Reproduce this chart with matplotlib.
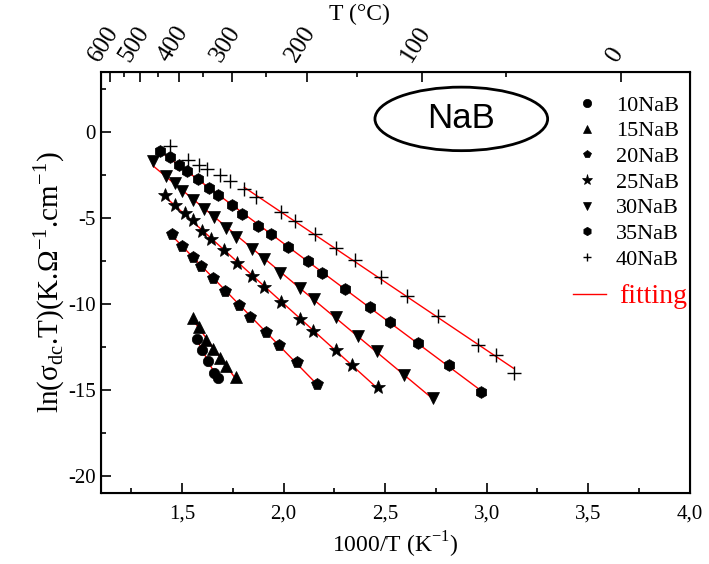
import numpy as np
import matplotlib.pyplot as plt
import matplotlib.transforms as mtransforms
from matplotlib.lines import Line2D
from matplotlib.patches import Ellipse
from matplotlib.ticker import FixedLocator, FuncFormatter, MultipleLocator

plt.rcParams["font.family"] = ["Liberation Serif", "DejaVu Serif"]
plt.rcParams["axes.unicode_minus"] = False
plt.rcParams["mathtext.fontset"] = "custom"
plt.rcParams["mathtext.rm"] = "Liberation Serif"

# --- dados: 1000/T (K^-1) e ln(sigma.T) ---
x_10 = [1.574, 1.597, 1.630, 1.656, 1.676]
y_10 = [-12.05, -12.67, -13.30, -14.03, -14.32]

x_15 = [1.554, 1.584, 1.620, 1.653, 1.686, 1.719, 1.764]
y_15 = [-10.83, -11.35, -12.09, -12.64, -13.12, -13.60, -14.26]

x_20 = [1.453, 1.502, 1.554, 1.594, 1.653, 1.712, 1.781, 1.837, 1.912, 1.978, 2.066, 2.164]
y_20 = [-5.91, -6.63, -7.29, -7.79, -8.51, -9.26, -10.08, -10.74, -11.63, -12.38, -13.39, -14.67]

x_25 = [1.415, 1.464, 1.513, 1.552, 1.600, 1.643, 1.705, 1.771, 1.847, 1.902,
        1.987, 2.079, 2.145, 2.257, 2.339, 2.467]
y_25 = [-3.64, -4.22, -4.69, -5.12, -5.74, -6.24, -6.86, -7.60, -8.37, -8.99,
        -9.88, -10.85, -11.59, -12.67, -13.57, -14.84]

x_30 = [1.357, 1.423, 1.466, 1.502, 1.554, 1.610, 1.656, 1.719, 1.768, 1.847,
        1.902, 1.984, 2.079, 2.148, 2.257, 2.368, 2.460, 2.591, 2.735]
y_30 = [-1.69, -2.54, -2.98, -3.41, -3.95, -4.49, -4.96, -5.58, -6.09, -6.78,
        -7.40, -8.18, -9.07, -9.73, -10.78, -11.86, -12.71, -14.13, -15.50]

x_35 = [1.394, 1.440, 1.485, 1.525, 1.577, 1.633, 1.679, 1.745, 1.797, 1.876,
        1.938, 2.024, 2.119, 2.191, 2.302, 2.424, 2.522, 2.663, 2.814, 2.974]
y_35 = [-1.09, -1.43, -1.88, -2.25, -2.73, -3.26, -3.68, -4.26, -4.73, -5.43,
        -5.95, -6.69, -7.50, -8.18, -9.13, -10.17, -11.05, -12.27, -13.57, -15.13]

x_40 = [1.440, 1.530, 1.584, 1.625, 1.686, 1.735, 1.807, 1.863, 1.987, 2.056,
        2.153, 2.260, 2.353, 2.478, 2.607, 2.762, 2.957, 3.047, 3.132]
y_40 = [-0.80, -1.63, -1.90, -2.15, -2.50, -2.83, -3.33, -3.76, -4.65, -5.15,
        -5.93, -6.76, -7.44, -8.45, -9.51, -10.70, -12.40, -12.99, -13.99]

labels = ["10NaB", "15NaB", "20NaB", "25NaB", "30NaB", "35NaB", "40NaB"]
xs = [x_10, x_15, x_20, x_25, x_30, x_35, x_40]
ys = [y_10, y_15, y_20, y_25, y_30, y_35, y_40]
# primeiro ponto usado no ajuste linear de cada série
fit_start = [0, 0, 0, 0, 0, 0, 6]

markers = ["o", "^", "p", "*", "v", "h", "+"]
msizes = [7.5, 8.5, 8.5, 10.5, 8.5, 8.5, 9.5]

# eixo de cima em graus Celsius
top_major_c = [600, 500, 400, 300, 200, 100, 0]
top_minor_c = [550, 450, 350, 250, 150, 50]

fig = plt.figure(figsize=(7.09, 5.64), dpi=100)
ax = fig.add_axes([0.142, 0.126, 0.831, 0.746])

for x, y, m, ms, i0 in zip(xs, ys, markers, msizes, fit_start):
    x = np.array(x)
    y = np.array(y)
    ax.plot(x, y, linestyle="none", marker=m, ms=ms, color="black",
            mew=1.0 if m == "+" else 0.5, zorder=3)
    a, b = np.polyfit(x[i0:], y[i0:], 1)
    xf = np.array([x[i0], x[-1]])
    ax.plot(xf, a * xf + b, color="red", lw=1.0, zorder=2)

ax.set_xlim(1.1, 4.0)
ax.set_ylim(-21, 3.5)
ax.xaxis.set_ticks([1.5, 2.0, 2.5, 3.0, 3.5, 4.0])
ax.xaxis.set_minor_locator(MultipleLocator(0.25))
ax.yaxis.set_major_locator(FixedLocator([0, -5, -10, -15, -20]))
ax.yaxis.set_minor_locator(MultipleLocator(2.5))
ax.xaxis.set_major_formatter(FuncFormatter(lambda v, p: f"{v:.1f}".replace(".", ",")))
ax.yaxis.set_major_formatter(FuncFormatter(lambda v, p: f"{v:.0f}"))
ax.tick_params(which="both", direction="in", labelsize=15, width=1.2)
ax.tick_params(which="major", length=7)
ax.tick_params(which="minor", length=3.5)
ax.tick_params(axis="x", pad=8)
ax.tick_params(top=False, right=False)
for s in ax.spines.values():
    s.set_linewidth(1.5)

ax.set_xlabel("1000/T (K$^{\\mathregular{-1}}$)", fontsize=17, labelpad=5)
ax.set_ylabel("ln(σ$_{\\mathregular{dc}}$.T)(K.Ω$^{\\mathregular{-1}}$.cm$^{\\mathregular{-1}}$)",
              fontsize=21, labelpad=1)

# eixo superior T (°C)
ax2 = ax.twiny()
ax2.set_xlim(ax.get_xlim())
ax2.xaxis.set_major_locator(FixedLocator([1000 / (t + 273.15) for t in top_major_c]))
ax2.xaxis.set_minor_locator(FixedLocator([1000 / (t + 273.15) for t in top_minor_c]))
ax2.set_xticklabels([str(t) for t in top_major_c], rotation=58, ha="center")
ax2.tick_params(which="both", direction="in", labelsize=18, width=1.2, pad=5)
ax2.tick_params(which="major", length=7)
ax2.tick_params(which="minor", length=3.5)
shift = mtransforms.ScaledTranslation(-6 / 100, 0, fig.dpi_scale_trans)
for lab in ax2.get_xticklabels():
    lab.set_transform(lab.get_transform() + shift)
ax2.set_xlabel("T (°C)", fontsize=17)
ax2.xaxis.set_label_coords(0.44, 1.125)

# elipse com o rótulo NaB
ax.add_patch(Ellipse((2.875, 0.78), 0.85, 3.7, fill=False, lw=2.0, color="black"))
ax.text(2.875, 0.78, "NaB", fontsize=25, family="Liberation Sans",
        ha="center", va="center")

# legenda das séries
handles = [Line2D([], [], linestyle="none", marker=m, color="black",
                  ms=6 if m != "*" else 8, mew=1.0 if m == "+" else 0.5)
           for m in markers]
leg = ax.legend(handles, labels, loc="upper left",
                bbox_to_anchor=(0.778, 0.972), frameon=False, fontsize=16,
                handlelength=1.5, handletextpad=0.55, labelspacing=0.23,
                borderaxespad=0.1)
ax.add_artist(leg)

# legenda do ajuste
leg2 = ax.legend([Line2D([], [], color="red", lw=1.0)], ["fitting"],
                 loc="upper left", bbox_to_anchor=(0.778, 0.53), frameon=False,
                 fontsize=20, handlelength=1.2, handletextpad=0.45,
                 borderaxespad=0.1)
leg2.get_texts()[0].set_color("red")

plt.savefig("out.png", dpi=100)
